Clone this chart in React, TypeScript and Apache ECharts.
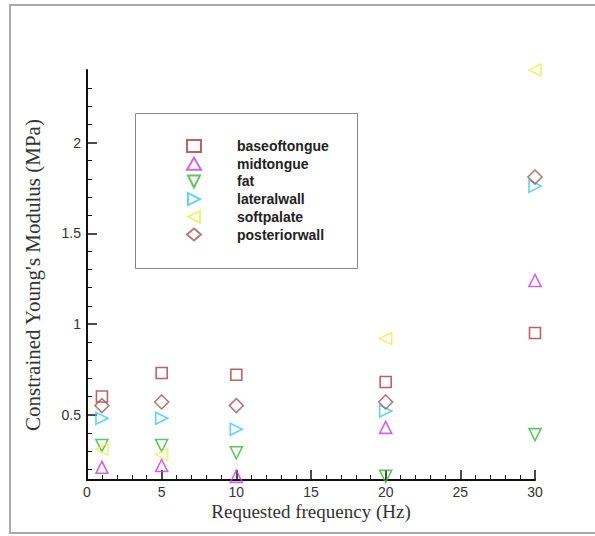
import React, { useEffect, useRef } from "react";
import * as echarts from "echarts";

const frequencies = [1, 5, 10, 20, 30];
const baseoftongue = [0.6, 0.73, 0.72, 0.68, 0.95];
const midtongue = [0.21, 0.22, 0.16, 0.43, 1.24];
const fat = [0.33, 0.33, 0.29, 0.16, 0.39];
const lateralwall = [0.48, 0.48, 0.42, 0.52, 1.76];
const softpalate = [0.31, 0.28, null, 0.92, 2.4];
const posteriorwall = [0.55, 0.57, 0.55, 0.57, 1.81];

const seriesNames = ["baseoftongue", "midtongue", "fat", "lateralwall", "softpalate", "posteriorwall"];
const yMajor = [0.5, 1, 1.5, 2];
const yMinor = [0.2, 0.3, 0.4, 0.6, 0.7, 0.8, 0.9, 1.1, 1.2, 1.3, 1.4, 1.6, 1.7, 1.8, 1.9, 2.1, 2.2, 2.3];

const pair = (vals: (number | null)[]) => frequencies.map((f, i) => [f, vals[i]]);

export default function App() {
  const ref = useRef<HTMLDivElement>(null);
  useEffect(() => {
    if (!ref.current) return;
    const chart = echarts.init(ref.current, undefined, { renderer: "svg" });
    const styles = [
      { data: baseoftongue, symbol: "rect", icon: "rect", color: "#b03a3a", size: 11, rotate: 0 },
      { data: midtongue, symbol: "triangle", icon: "triangle", color: "#c040dc", size: 12, rotate: 0 },
      { data: fat, symbol: "triangle", icon: "path://M0,0L10,0L5,10Z", color: "#3cb43c", size: 12, rotate: 180 },
      { data: lateralwall, symbol: "triangle", icon: "path://M0,0L10,5L0,10Z", color: "#3cc8f0", size: 12, rotate: -90 },
      { data: softpalate, symbol: "triangle", icon: "path://M10,0L0,5L10,10Z", color: "#eeee55", size: 12, rotate: 90 },
      { data: posteriorwall, symbol: "diamond", icon: "diamond", color: "#a05a5a", size: 14, rotate: 0 },
    ];
    chart.setOption({
      animation: false,
      backgroundColor: "#fff",
      grid: { left: 87, right: 60, top: 70, bottom: 56 },
      xAxis: {
        type: "value",
        min: 0,
        max: 30,
        interval: 5,
        name: "Requested frequency (Hz)",
        nameLocation: "middle",
        nameGap: 22,
        nameMoveOverlap: false,
        nameTextStyle: { fontFamily: "Liberation Serif", fontSize: 19, color: "#333", verticalAlign: "top" },
        axisLine: { show: true, lineStyle: { color: "#111", width: 2 } },
        axisTick: { inside: true, length: 10, lineStyle: { color: "#111", width: 1.5 } },
        minorTick: { show: true, splitNumber: 5, length: 5, lineStyle: { color: "#111", width: 1 } },
        axisLabel: { fontFamily: "Liberation Sans", fontSize: 14, lineHeight: 14, color: "#333", margin: 5 },
        splitLine: { show: false },
      },
      yAxis: [
        {
          type: "value",
          min: 0.14,
          max: 2.4,
          name: "Constrained Young's Modulus (MPa)",
          nameLocation: "middle",
          nameGap: 44,
          nameTextStyle: { fontFamily: "Liberation Serif", fontSize: 21, color: "#333" },
          axisLine: { show: true, lineStyle: { color: "#111", width: 2 } },
          axisTick: { inside: true, length: 10, customValues: yMajor, lineStyle: { color: "#111", width: 1.5 } },
          axisLabel: { customValues: yMajor, fontFamily: "Liberation Sans", fontSize: 14, color: "#333", margin: 6 },
          splitLine: { show: false },
        },
        {
          type: "value",
          min: 0.14,
          max: 2.4,
          position: "left",
          axisLine: { show: false },
          axisTick: { inside: true, length: 5, customValues: yMinor, lineStyle: { color: "#111", width: 1 } },
          axisLabel: { show: false },
          splitLine: { show: false },
        },
      ],
      legend: {
        orient: "vertical",
        left: 181,
        top: 134,
        itemWidth: 14,
        itemHeight: 12,
        itemGap: 3.7,
        selectedMode: false,
        textStyle: { fontFamily: "Liberation Sans", fontSize: 14, lineHeight: 12, fontWeight: "bold", color: "#222", padding: [0, 0, 0, 31] },
        data: seriesNames.map((n, i) => ({ name: n, icon: styles[i].icon })),
      },
      graphic: [
        { type: "rect", shape: { x: 10, y: 5, width: 700, height: 528 }, style: { fill: "none", stroke: "#aaa", lineWidth: 2 }, silent: true },
        { type: "rect", shape: { x: 135.5, y: 113.5, width: 222, height: 155 }, style: { fill: "none", stroke: "#888", lineWidth: 1 }, silent: true },
      ],
      series: seriesNames.map((name, i) => ({
        name,
        type: "scatter",
        data: pair(styles[i].data),
        symbol: styles[i].symbol,
        symbolSize: styles[i].size,
        symbolRotate: styles[i].rotate,
        itemStyle: { color: "rgba(0,0,0,0)", borderColor: styles[i].color, borderWidth: 1.6 },
        emphasis: { disabled: true },
      })),
    });
    return () => chart.dispose();
  }, []);
  return <div ref={ref} style={{ position: "fixed", left: 0, top: 0, width: 595, height: 536 }} />;
}
